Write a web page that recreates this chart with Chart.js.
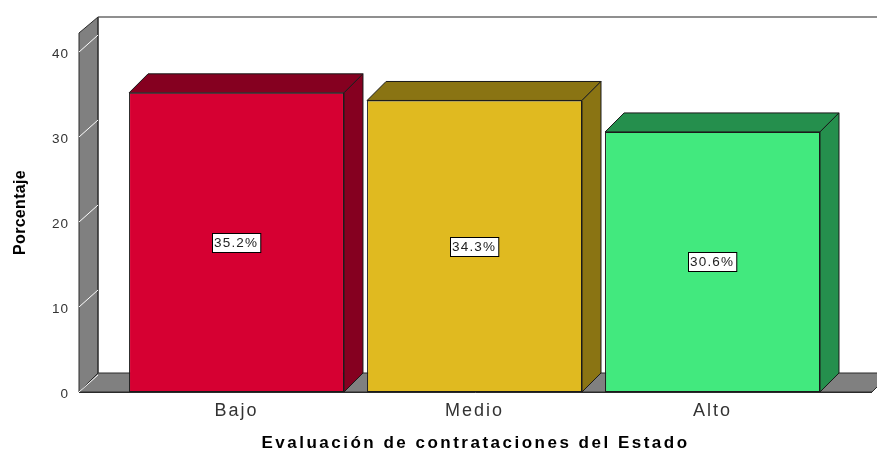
<!DOCTYPE html>
<html><head><meta charset="utf-8">
<script src="https://cdn.jsdelivr.net/npm/chart.js@4/dist/chart.umd.min.js"></script>
<style>html,body{margin:0;padding:0;background:#fff;overflow:hidden}canvas{display:block}</style>
</head><body>
<canvas id="c" width="877" height="450"></canvas>
<script>
// ---- data ----
const categories = ['Bajo', 'Medio', 'Alto'];
const percentages = [35.2, 34.3, 30.6];
const yTickValues = [0, 10, 20, 30, 40];
const xTitle = 'Evaluación de contrataciones del Estado';
const yTitle = 'Porcentaje';
// ---- styles ----
const frontColors = ['#d60032', '#e0ba20', '#42e97e'];
const darkColors = ['#850020', '#8a7413', '#258f4d'];
const DEPTH = 19;
const BASE_FONT = '"Liberation Sans", Arial, sans-serif';

function fontAvailable(name) {
  const c = document.createElement('canvas').getContext('2d');
  c.font = '40px monospace';
  const a = c.measureText('Porcentaje mmWi').width;
  c.font = '40px "' + name + '", monospace';
  const b = c.measureText('Porcentaje mmWi').width;
  return a !== b;
}
const narrow = fontAvailable('Liberation Sans Narrow');
const yTitleFont = narrow
  ? { family: '"Liberation Sans Narrow"', size: 18, weight: 'bold', lineHeight: 1.2 }
  : { family: BASE_FONT, size: 16, weight: 'bold', lineHeight: 1.2 };
const spacing = {
  x: { labels: 2, title: 2.5 },
  y: { labels: 1, title: narrow ? 1 : 0.3 }
};

Chart.defaults.font.family = BASE_FONT;

const spacingPlugin = {
  id: 'spacing',
  beforeDraw(chart) {
    for (const s of Object.values(chart.scales)) {
      if (s._spWrapped) continue;
      s._spWrapped = true;
      const sp = spacing[s.id] || { labels: 0, title: 0 };
      const oL = s.drawLabels, oT = s.drawTitle;
      s.drawLabels = function (ca) {
        const ctx = this.ctx; ctx.save(); ctx.letterSpacing = sp.labels + 'px';
        oL.call(this, ca); ctx.restore();
      };
      s.drawTitle = function () {
        const ctx = this.ctx; ctx.save(); ctx.letterSpacing = sp.title + 'px';
        oT.call(this); ctx.restore();
      };
    }
  }
};

function poly(ctx, pts, fill, stroke) {
  ctx.beginPath();
  ctx.moveTo(pts[0][0], pts[0][1]);
  for (let i = 1; i < pts.length; i++) ctx.lineTo(pts[i][0], pts[i][1]);
  ctx.closePath();
  if (fill) { ctx.fillStyle = fill; ctx.fill(); }
  if (stroke) { ctx.strokeStyle = stroke; ctx.stroke(); }
}

const wallPlugin = {
  id: 'walls',
  beforeDraw(chart) {
    const { ctx, chartArea: a, scales: { y } } = chart;
    const d = DEPTH, L = a.left, R = a.right, T = a.top, B = a.bottom;
    const W = chart.width;
    ctx.save();
    ctx.lineWidth = 1;
    // floor
    poly(ctx, [[L, B], [R, B], [R + d, B - d], [L + d, B - d]], '#808080', '#2a2a2a');
    // left wall
    poly(ctx, [[L, B], [L, T], [L + d, T - 16], [L + d, B - d]], '#808080', '#2a2a2a');
    // back wall edges
    ctx.strokeStyle = '#6a6a6a'; ctx.lineWidth = 1.5;
    ctx.beginPath(); ctx.moveTo(L + d, T - 16); ctx.lineTo(W + 20, T - 16); ctx.stroke();
    ctx.strokeStyle = '#2a2a2a'; ctx.lineWidth = 1;
    ctx.beginPath(); ctx.moveTo(L + d, T - 16); ctx.lineTo(L + d, B - d); ctx.stroke();
    // grid lines on side wall
    ctx.strokeStyle = '#ffffff'; ctx.lineWidth = 1;
    for (const v of yTickValues) {
      const py = y.getPixelForValue(v);
      ctx.beginPath(); ctx.moveTo(L, py); ctx.lineTo(L + d, py - 17); ctx.stroke();
    }
    // front edge of floor
    ctx.strokeStyle = '#2a2a2a';
    ctx.beginPath(); ctx.moveTo(L, B + 0.5); ctx.lineTo(R, B + 0.5); ctx.stroke();
    ctx.restore();
  }
};

const barPlugin = {
  id: 'bar3d',
  afterDatasetsDraw(chart) {
    const ctx = chart.ctx;
    const meta = chart.getDatasetMeta(0);
    const d = DEPTH;
    ctx.save();
    ctx.lineWidth = 1;
    meta.data.forEach((el, i) => {
      const left = el.x - el.width / 2, right = el.x + el.width / 2;
      const top = el.y, base = el.base;
      poly(ctx, [[left, top], [left + d, top - d], [right + d, top - d], [right, top]], darkColors[i], '#1a1a1a');
      poly(ctx, [[right, top], [right + d, top - d], [right + d, base - d], [right, base]], darkColors[i], '#1a1a1a');
    });
    // value labels
    ctx.font = '13.5px ' + BASE_FONT;
    ctx.letterSpacing = '1.2px';
    ctx.textBaseline = 'middle';
    ctx.textAlign = 'left';
    meta.data.forEach((el, i) => {
      const txt = percentages[i].toFixed(1) + '%';
      const w = ctx.measureText(txt).width;
      const bw = w + 4, bh = 19;
      const cx = el.x, cy = (el.y + el.base) / 2;
      const bx = Math.round(cx - bw / 2) + 0.5, by = Math.round(cy - bh / 2) + 0.5;
      ctx.fillStyle = '#ffffff';
      ctx.fillRect(bx, by, bw, bh);
      ctx.strokeStyle = '#000'; ctx.strokeRect(bx, by, bw, bh);
      ctx.fillStyle = '#222';
      ctx.fillText(txt, bx + 1.5, by + bh / 2 + 0.5);
    });
    ctx.restore();
  }
};

new Chart(document.getElementById('c'), {
  type: 'bar',
  data: {
    datasets: [{
      data: percentages.map((v, i) => ({ x: i, y: v })),
      backgroundColor: frontColors,
      borderColor: '#1a1a1a',
      borderWidth: 1,
      borderSkipped: false,
      barPercentage: 0.903,
      categoryPercentage: 1
    }]
  },
  options: {
    responsive: false,
    animation: false,
    devicePixelRatio: 1,
    layout: { padding: { left: 0, right: 5, top: 33, bottom: 0 } },
    plugins: { legend: { display: false }, tooltip: { enabled: false } },
    scales: {
      x: {
        type: 'linear', offset: false, min: -0.6618, max: 2.670,
        grid: { display: false, drawTicks: false }, border: { display: false },
        afterBuildTicks: s => { s.ticks = categories.map((c, i) => ({ value: i })); },
        ticks: { callback: v => categories[v], font: { size: 18 }, color: '#333', padding: 8, maxRotation: 0, autoSkip: false },
        title: { display: true, text: xTitle, font: { size: 17, weight: 'bold', lineHeight: 1 }, color: '#000', padding: { top: 0, bottom: -2 } },
        afterFit: s => { s.height = 58; }
      },
      y: {
        min: 0, max: 42.24,
        grid: { display: false, drawTicks: false }, border: { display: false },
        afterBuildTicks: s => { s.ticks = yTickValues.map(v => ({ value: v })); },
        ticks: { font: { size: 13.5 }, color: '#333', padding: 10, labelOffset: 2 },
        title: { display: true, text: yTitle, font: yTitleFont, color: '#000', padding: { top: 11, bottom: 0 } },
        afterFit: s => { s.width = 79; }
      }
    }
  },
  plugins: [spacingPlugin, wallPlugin, barPlugin]
});
</script>
</body></html>
